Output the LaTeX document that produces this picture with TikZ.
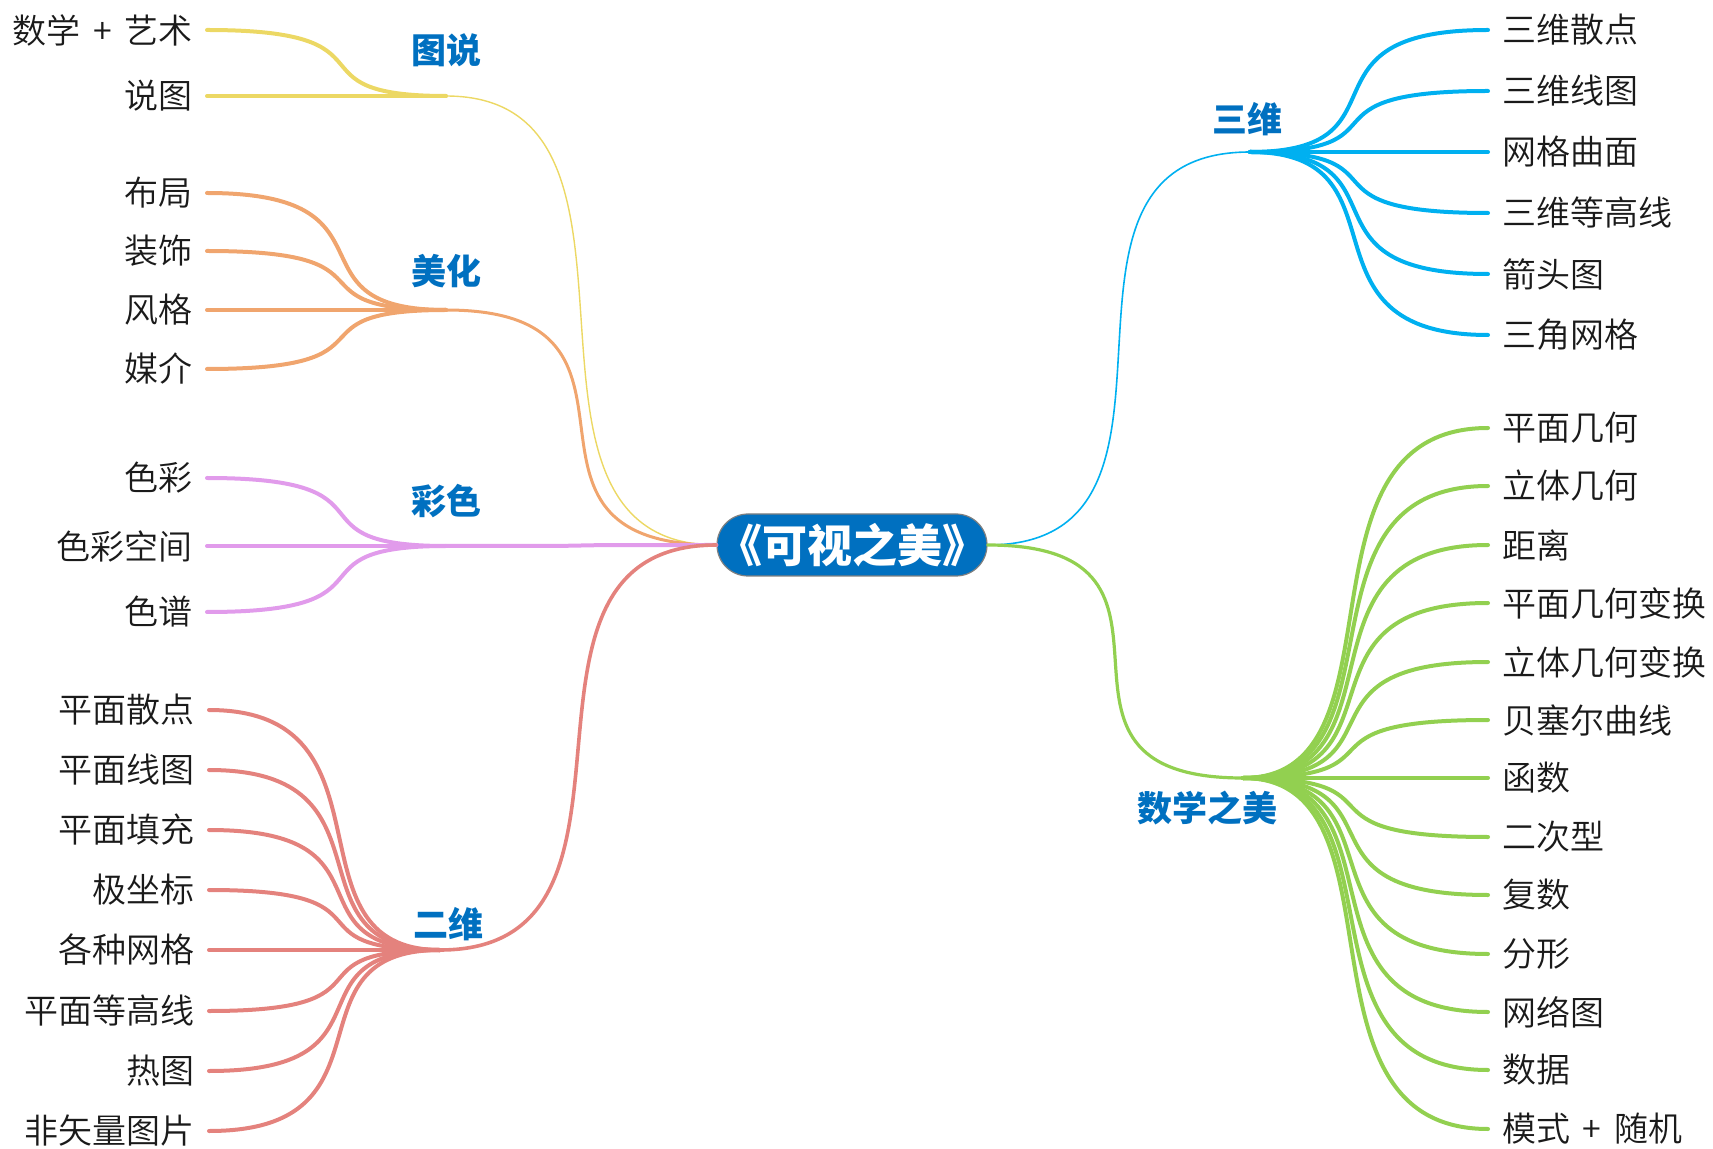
\documentclass[tikz,border=0pt]{standalone}
\usepackage{fontspec}
\setmainfont{Noto Sans CJK SC}
\newfontfamily\leaffont{Noto Sans CJK SC DemiLight}
\usetikzlibrary{positioning}
\definecolor{topicblue}{RGB}{0,112,192}
\definecolor{leafink}{RGB}{26,26,26}
\definecolor{cyellow}{RGB}{236,216,100}
\definecolor{corange}{RGB}{240,165,110}
\definecolor{cpink}{RGB}{225,155,235}
\definecolor{cred}{RGB}{228,130,125}
\definecolor{cblue}{RGB}{0,176,240}
\definecolor{cgreen}{RGB}{146,208,80}

\begin{document}
\begin{tikzpicture}[
    x=0.5pt, y=-0.5pt,
    root/.style={draw=gray, line width=0.6pt, fill=topicblue, rounded corners=15.5pt, minimum width=135pt, minimum height=31pt, inner sep=0pt, text=white, font=\fontsize{22.5}{26}\selectfont\bfseries},
    topic/.style={inner sep=0pt, text=topicblue, font=\fontsize{17.5}{20}\selectfont\bfseries},
    leftleaf/.style={anchor=east, inner xsep=7pt, inner ysep=0pt, text=leafink, font=\fontsize{17}{20}\leaffont},
    rightleaf/.style={leftleaf, anchor=west},
    twig/.style={line width=2pt, line cap=round},
    limb/.style={line cap=round}
  ]
    \useasboundingbox (0,0) rectangle (1713,1149);
    \node[root] (root) at (852,545) {《可视之美》};

    \coordinate (tushuo) at (446,96);
    \coordinate (meihua) at (446,310);
    \coordinate (caise) at (446,546);
    \coordinate (erwei) at (440,950);
    \coordinate (sanwei) at (1250,152);
    \coordinate (shuxue) at (1243,778);

    \node[topic, above=14.5pt of tushuo] (tushuolbl) {图说};
    \node[topic, above=11pt of meihua] (meihualbl) {美化};
    \node[topic, above=14pt of caise] (caiselbl) {彩色};
    \node[topic, above=4.5pt of erwei, xshift=4pt] (erweilbl) {二维};
    \node[topic, above=8pt of sanwei, xshift=-1.5pt] (sanweilbl) {三维};
    \node[topic, below=6.5pt of shuxue, xshift=-18pt] (shuxuelbl) {数学之美};

    \node[leftleaf] (shuxueyishu) at (207,30) {数学\hspace{0.37em}+\hspace{0.37em}艺术};
    \node[leftleaf] (shuotu) at (207,96) {说图};
    \node[leftleaf] (buju) at (207,193) {布局};
    \node[leftleaf] (zhuangshi) at (207,251) {装饰};
    \node[leftleaf] (fengge) at (207,310) {风格};
    \node[leftleaf] (meijie) at (207,369) {媒介};
    \node[leftleaf] (secai) at (207,478) {色彩};
    \node[leftleaf] (secaikongjian) at (207,546) {色彩空间};
    \node[leftleaf] (sepu) at (207,612) {色谱};
    \node[leftleaf] (pmsandian) at (209,710) {平面散点};
    \node[leftleaf] (pmxiantu) at (209,770) {平面线图};
    \node[leftleaf] (pmtianchong) at (209,830) {平面填充};
    \node[leftleaf] (jizuobiao) at (209,890) {极坐标};
    \node[leftleaf] (gezhongwangge) at (209,950) {各种网格};
    \node[leftleaf] (pmdenggao) at (209,1011) {平面等高线};
    \node[leftleaf] (retu) at (209,1071) {热图};
    \node[leftleaf] (feishiliang) at (209,1131) {非矢量图片};

    \node[rightleaf] (swsandian) at (1488,30) {三维散点};
    \node[rightleaf] (swxiantu) at (1488,91) {三维线图};
    \node[rightleaf] (wgqumian) at (1488,152) {网格曲面};
    \node[rightleaf] (swdenggao) at (1488,213) {三维等高线};
    \node[rightleaf] (jiantou) at (1488,274) {箭头图};
    \node[rightleaf] (sjwangge) at (1488,335) {三角网格};

    \node[rightleaf] (pmjihe) at (1488,428) {平面几何};
    \node[rightleaf] (ltjihe) at (1488,486) {立体几何};
    \node[rightleaf] (juli) at (1488,545) {距离};
    \node[rightleaf] (pmbianhuan) at (1488,603) {平面几何变换};
    \node[rightleaf] (ltbianhuan) at (1488,662) {立体几何变换};
    \node[rightleaf] (beisaier) at (1488,720) {贝塞尔曲线};
    \node[rightleaf] (hanshu) at (1488,778) {函数};
    \node[rightleaf] (ercixing) at (1488,837) {二次型};
    \node[rightleaf] (fushu) at (1488,895) {复数};
    \node[rightleaf] (fenxing) at (1488,954) {分形};
    \node[rightleaf] (wangluotu) at (1488,1012) {网络图};
    \node[rightleaf] (shuju) at (1488,1070) {数据};
    \node[rightleaf] (moshi) at (1488,1129) {模式\hspace{0.37em}+\hspace{0.37em}随机};

    \draw[limb, cyellow, line width=0.7pt] (root.west) .. controls +(-240,0) and +(240,0) .. (tushuo);
    \draw[limb, corange, line width=1.5pt] (root.west) .. controls +(-240,0) and +(240,0) .. (meihua);
    \draw[limb, cpink, line width=2pt] (root.west) .. controls +(-240,0) and +(240,0) .. (caise);
    \draw[limb, cred, line width=1.8pt] (root.west) .. controls +(-240,0) and +(240,0) .. (erwei);
    \draw[limb, cblue, line width=0.8pt] (root.east) .. controls +(240,0) and +(-240,0) .. (sanwei);
    \draw[limb, cgreen, line width=1.6pt] (root.east) .. controls +(240,0) and +(-240,0) .. (shuxue);

    \draw[twig, cyellow] (tushuo) .. controls +(-165,0) and +(200,0) .. (shuxueyishu.east);
    \draw[twig, cyellow] (tushuo) .. controls +(-165,0) and +(200,0) .. (shuotu.east);

    \draw[twig, corange] (meihua) .. controls +(-165,0) and +(200,0) .. (buju.east);
    \draw[twig, corange] (meihua) .. controls +(-165,0) and +(200,0) .. (zhuangshi.east);
    \draw[twig, corange] (meihua) .. controls +(-165,0) and +(200,0) .. (fengge.east);
    \draw[twig, corange] (meihua) .. controls +(-165,0) and +(200,0) .. (meijie.east);

    \draw[twig, cpink] (caise) .. controls +(-165,0) and +(200,0) .. (secai.east);
    \draw[twig, cpink] (caise) .. controls +(-165,0) and +(200,0) .. (secaikongjian.east);
    \draw[twig, cpink] (caise) .. controls +(-165,0) and +(200,0) .. (sepu.east);

    \draw[twig, cred] (erwei) .. controls +(-160,0) and +(195,0) .. (pmsandian.east);
    \draw[twig, cred] (erwei) .. controls +(-160,0) and +(195,0) .. (pmxiantu.east);
    \draw[twig, cred] (erwei) .. controls +(-160,0) and +(195,0) .. (pmtianchong.east);
    \draw[twig, cred] (erwei) .. controls +(-160,0) and +(195,0) .. (jizuobiao.east);
    \draw[twig, cred] (erwei) .. controls +(-160,0) and +(195,0) .. (gezhongwangge.east);
    \draw[twig, cred] (erwei) .. controls +(-160,0) and +(195,0) .. (pmdenggao.east);
    \draw[twig, cred] (erwei) .. controls +(-160,0) and +(195,0) .. (retu.east);
    \draw[twig, cred] (erwei) .. controls +(-160,0) and +(195,0) .. (feishiliang.east);

    \draw[twig, cblue] (sanwei) .. controls +(165,0) and +(-200,0) .. (swsandian.west);
    \draw[twig, cblue] (sanwei) .. controls +(165,0) and +(-200,0) .. (swxiantu.west);
    \draw[twig, cblue] (sanwei) .. controls +(165,0) and +(-200,0) .. (wgqumian.west);
    \draw[twig, cblue] (sanwei) .. controls +(165,0) and +(-200,0) .. (swdenggao.west);
    \draw[twig, cblue] (sanwei) .. controls +(165,0) and +(-200,0) .. (jiantou.west);
    \draw[twig, cblue] (sanwei) .. controls +(165,0) and +(-200,0) .. (sjwangge.west);

    \draw[twig, cgreen] (shuxue) .. controls +(170,0) and +(-205,0) .. (pmjihe.west);
    \draw[twig, cgreen] (shuxue) .. controls +(170,0) and +(-205,0) .. (ltjihe.west);
    \draw[twig, cgreen] (shuxue) .. controls +(170,0) and +(-205,0) .. (juli.west);
    \draw[twig, cgreen] (shuxue) .. controls +(170,0) and +(-205,0) .. (pmbianhuan.west);
    \draw[twig, cgreen] (shuxue) .. controls +(170,0) and +(-205,0) .. (ltbianhuan.west);
    \draw[twig, cgreen] (shuxue) .. controls +(170,0) and +(-205,0) .. (beisaier.west);
    \draw[twig, cgreen] (shuxue) .. controls +(170,0) and +(-205,0) .. (hanshu.west);
    \draw[twig, cgreen] (shuxue) .. controls +(170,0) and +(-205,0) .. (ercixing.west);
    \draw[twig, cgreen] (shuxue) .. controls +(170,0) and +(-205,0) .. (fushu.west);
    \draw[twig, cgreen] (shuxue) .. controls +(170,0) and +(-205,0) .. (fenxing.west);
    \draw[twig, cgreen] (shuxue) .. controls +(170,0) and +(-205,0) .. (wangluotu.west);
    \draw[twig, cgreen] (shuxue) .. controls +(170,0) and +(-205,0) .. (shuju.west);
    \draw[twig, cgreen] (shuxue) .. controls +(170,0) and +(-205,0) .. (moshi.west);
  \end{tikzpicture}
\end{document}
